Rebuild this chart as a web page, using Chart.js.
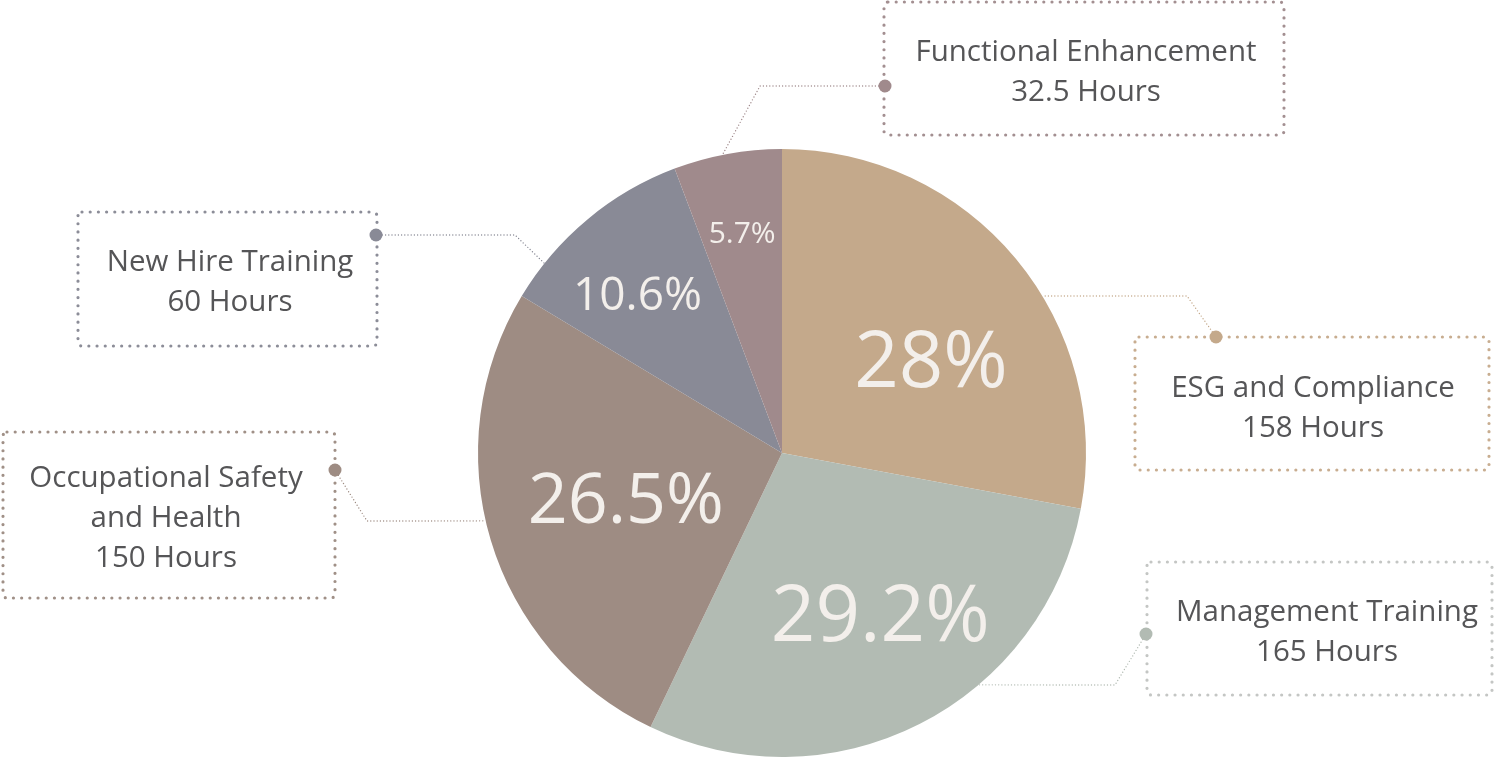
<!DOCTYPE html>
<html>
<head>
<meta charset="utf-8">
<script src="https://cdn.jsdelivr.net/npm/chart.js@4"></script>
<style>
  html, body { margin: 0; padding: 0; background: #ffffff; }
  #wrap { width: 1495px; height: 778px; position: relative; }
</style>
</head>
<body>
<div id="wrap"><canvas id="myChart"></canvas></div>
<script>
// data (training hours by category)
const categories = ["ESG and Compliance", "Management Training", "Occupational Safety and Health", "New Hire Training", "Functional Enhancement"];
const hours = [158, 165, 150, 60, 32.5];
const pctLabels = ["28%", "29.2%", "26.5%", "10.6%", "5.7%"];
const sliceColors = ["#c4a98b", "#b2bbb3", "#9e8c83", "#898a96", "#a08a8c"];

// callout boxes around the pie (layout only)
const callouts = [
  { lines: ["ESG and Compliance", "158 Hours"], box: [1135, 337, 354, 133], text: [1313, 389], dot: [1216, 337], bend: [1187, 296], endAngle: -31.1, border: "#c8ad90" },
  { lines: ["Management Training", "165 Hours"], box: [1147, 562, 345, 133], text: [1327, 613], dot: [1146, 634], bend: [1115, 685], endAngle: 49.7, border: "#c4c6c4" },
  { lines: ["Occupational Safety", "and Health", "150 Hours"], box: [3, 432, 332, 166], text: [166, 479], dot: [335, 470], bend: [367, 521], endAngle: 167.1, border: "#a09087" },
  { lines: ["New Hire Training", "60 Hours"], box: [78, 212, 299, 134], text: [230, 263], dot: [376, 235], bend: [515, 235], endAngle: -141.4, border: "#8c8d98" },
  { lines: ["Functional Enhancement", "32.5 Hours"], box: [884, 2, 400, 133], text: [1086, 53], dot: [885, 86], bend: [760, 86], endAngle: -101.3, border: "#a38f91" },
];

// percent label styling: font size, radius fraction, angle nudge (deg)
const pctStyle = [
  { size: 78, r: 0.57, nudge: 9 },
  { size: 78, r: 0.635, nudge: -3.7 },
  { size: 70, r: 0.54, nudge: -1.3 },
  { size: 46, r: 0.70, nudge: -3 },
  { size: 30, r: 0.73, nudge: 0 },
];

const FONT = "'Open Sans', 'Noto Sans', sans-serif";

const calloutPlugin = {
  id: "callouts",
  afterDraw(chart) {
    const ctx = chart.ctx;
    const arcs = chart.getDatasetMeta(0).data;
    const cx = arcs[0].x;
    const cy = arcs[0].y;
    const R = arcs[0].outerRadius;

    // percent labels inside slices
    arcs.forEach((arc, i) => {
      const mid = (arc.startAngle + arc.endAngle) / 2 + pctStyle[i].nudge * Math.PI / 180;
      const rr = R * pctStyle[i].r;
      ctx.save();
      ctx.fillStyle = "#f3efeb";
      ctx.font = "500 " + pctStyle[i].size + "px " + FONT;
      ctx.textAlign = "center";
      ctx.textBaseline = "middle";
      ctx.fillText(pctLabels[i], cx + rr * Math.cos(mid), cy + rr * Math.sin(mid));
      ctx.restore();
    });

    callouts.forEach((c, i) => {
      const color = sliceColors[i];
      const a = c.endAngle * Math.PI / 180;
      const ex = cx + R * Math.cos(a);
      const ey = cy + R * Math.sin(a);

      // leader line
      ctx.save();
      ctx.strokeStyle = color;
      ctx.lineWidth = 1.4;
      ctx.lineCap = "round";
      ctx.setLineDash([0, 3.2]);
      ctx.beginPath();
      ctx.moveTo(c.dot[0], c.dot[1]);
      ctx.lineTo(c.bend[0], c.bend[1]);
      ctx.lineTo(ex, ey);
      ctx.stroke();
      ctx.restore();

      // dotted box
      ctx.save();
      ctx.strokeStyle = c.border;
      ctx.lineWidth = 3.2;
      ctx.lineCap = "round";
      ctx.setLineDash([0, 8.2]);
      ctx.beginPath();
      ctx.roundRect(c.box[0], c.box[1], c.box[2], c.box[3], 4);
      ctx.stroke();
      ctx.restore();

      // dot marker
      ctx.save();
      ctx.fillStyle = color;
      ctx.beginPath();
      ctx.arc(c.dot[0], c.dot[1], 6.5, 0, Math.PI * 2);
      ctx.fill();
      ctx.restore();

      // text
      ctx.save();
      ctx.fillStyle = "#555557";
      ctx.font = "29.5px " + FONT;
      ctx.textAlign = "center";
      ctx.textBaseline = "middle";
      c.lines.forEach((line, k) => {
        ctx.fillText(line, c.text[0], c.text[1] + k * 40);
      });
      ctx.restore();
    });
  },
};

document.addEventListener("DOMContentLoaded", function () {
  const ctx = document.getElementById("myChart").getContext("2d");
  new Chart(ctx, {
    type: "pie",
    data: {
      labels: categories,
      datasets: [
        {
          data: hours,
          backgroundColor: sliceColors,
          borderWidth: 0,
        },
      ],
    },
    options: {
      responsive: true,
      maintainAspectRatio: false,
      animation: false,
      layout: {
        padding: { left: 478, right: 409, top: 149, bottom: 21 },
      },
      plugins: {
        legend: { display: false },
        tooltip: { enabled: false },
      },
    },
    plugins: [calloutPlugin],
  });
});
</script>
</body>
</html>
